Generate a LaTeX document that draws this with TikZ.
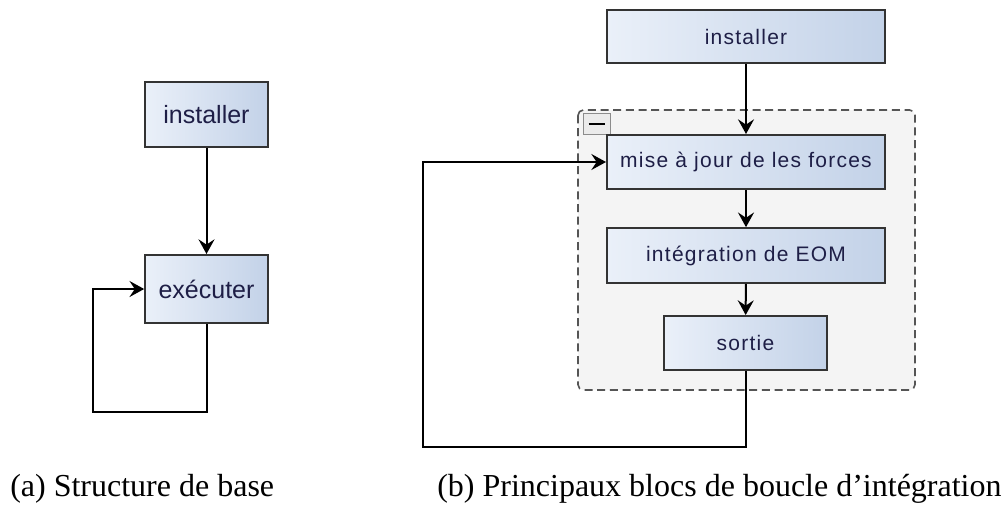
\documentclass[tikz,border=0pt]{standalone}
\usepackage{fontspec}
\setmainfont{Liberation Serif}
\newfontfamily\blocfont{Liberation Sans}
\newfontfamily\blocfontlarge[LetterSpace=6]{Liberation Sans}
\usetikzlibrary{arrows.meta}
\definecolor{blocleft}{HTML}{EAF0F9}
\definecolor{blocright}{HTML}{C3D2E8}
\definecolor{bloctext}{HTML}{1E1E46}
\definecolor{groupfill}{HTML}{F4F4F4}
\definecolor{groupline}{HTML}{555555}
\begin{document}
\begin{tikzpicture}[x=0.75pt,y=-0.75pt,
  bloc/.style={draw=black!80,line width=1.5pt,left color=blocleft,right color=blocright,text=bloctext,inner sep=0pt},
  petit/.style={bloc,font=\blocfont\fontsize{18.75}{20}\selectfont},
  large/.style={bloc,font=\blocfontlarge\fontsize{15.75}{17}\selectfont},
  fleche/.style={line width=1.5pt,-{Stealth[length=11pt,width=12pt,inset=4pt]}},
  groupe/.style={draw=groupline,fill=groupfill,line width=1.2pt,dash pattern=on 6pt off 3.5pt,rounded corners=4pt},
  legende/.style={font=\fontsize{24}{28}\selectfont,anchor=base west,inner sep=0pt}]
\useasboundingbox (0,0) rectangle (1006,508);

% (a) structure de base
\node (inst) at (206.5,114.5) [petit,minimum width=92pt,minimum height=49pt] {installer};
\node (exec) at (206.5,289) [petit,minimum width=92pt,minimum height=51pt] {exécuter};
\draw[fleche] (inst) -- (exec);
\coordinate (b1) at (206.5,412);
\coordinate (b2) at (93,412);
\draw[fleche] (exec.south) -- (b1) -- (b2) |- (exec.west);

% (b) boucle d'integration
\draw[groupe] (578,110) rectangle (915,390);
\node (plier) at (596.5,124) [draw=black!45,fill=black!8,minimum width=20pt,minimum height=16pt,inner sep=0pt] {};
\draw[line width=2pt] ([xshift=-6pt]plier.center) -- ([xshift=6pt]plier.center);

\node (install) at (746,36.5) [large,minimum width=208.5pt,minimum height=40pt] {installer};
\node (forces) at (746,162) [large,minimum width=208.5pt,minimum height=40.5pt] {mise à jour de les forces};
\node (eom) at (746,255.5) [large,minimum width=208.5pt,minimum height=41pt] {intégration de EOM};
\node (sortie) at (745.5,343) [large,minimum width=122pt,minimum height=40.5pt] {sortie};
\draw[fleche] (install) -- (forces);
\draw[fleche] (forces) -- (eom);
\draw[fleche] (eom) -- (sortie);
\coordinate (r1) at (745.5,447);
\coordinate (r2) at (423,447);
\draw[fleche] (sortie.south) -- (r1) -- (r2) |- (forces.west);

\node (capa) at (10,496) [legende] {(a) Structure de base};
\node (capb) at (437,496) [legende] {(b) Principaux blocs de boucle d'intégration};
\end{tikzpicture}
\end{document}
